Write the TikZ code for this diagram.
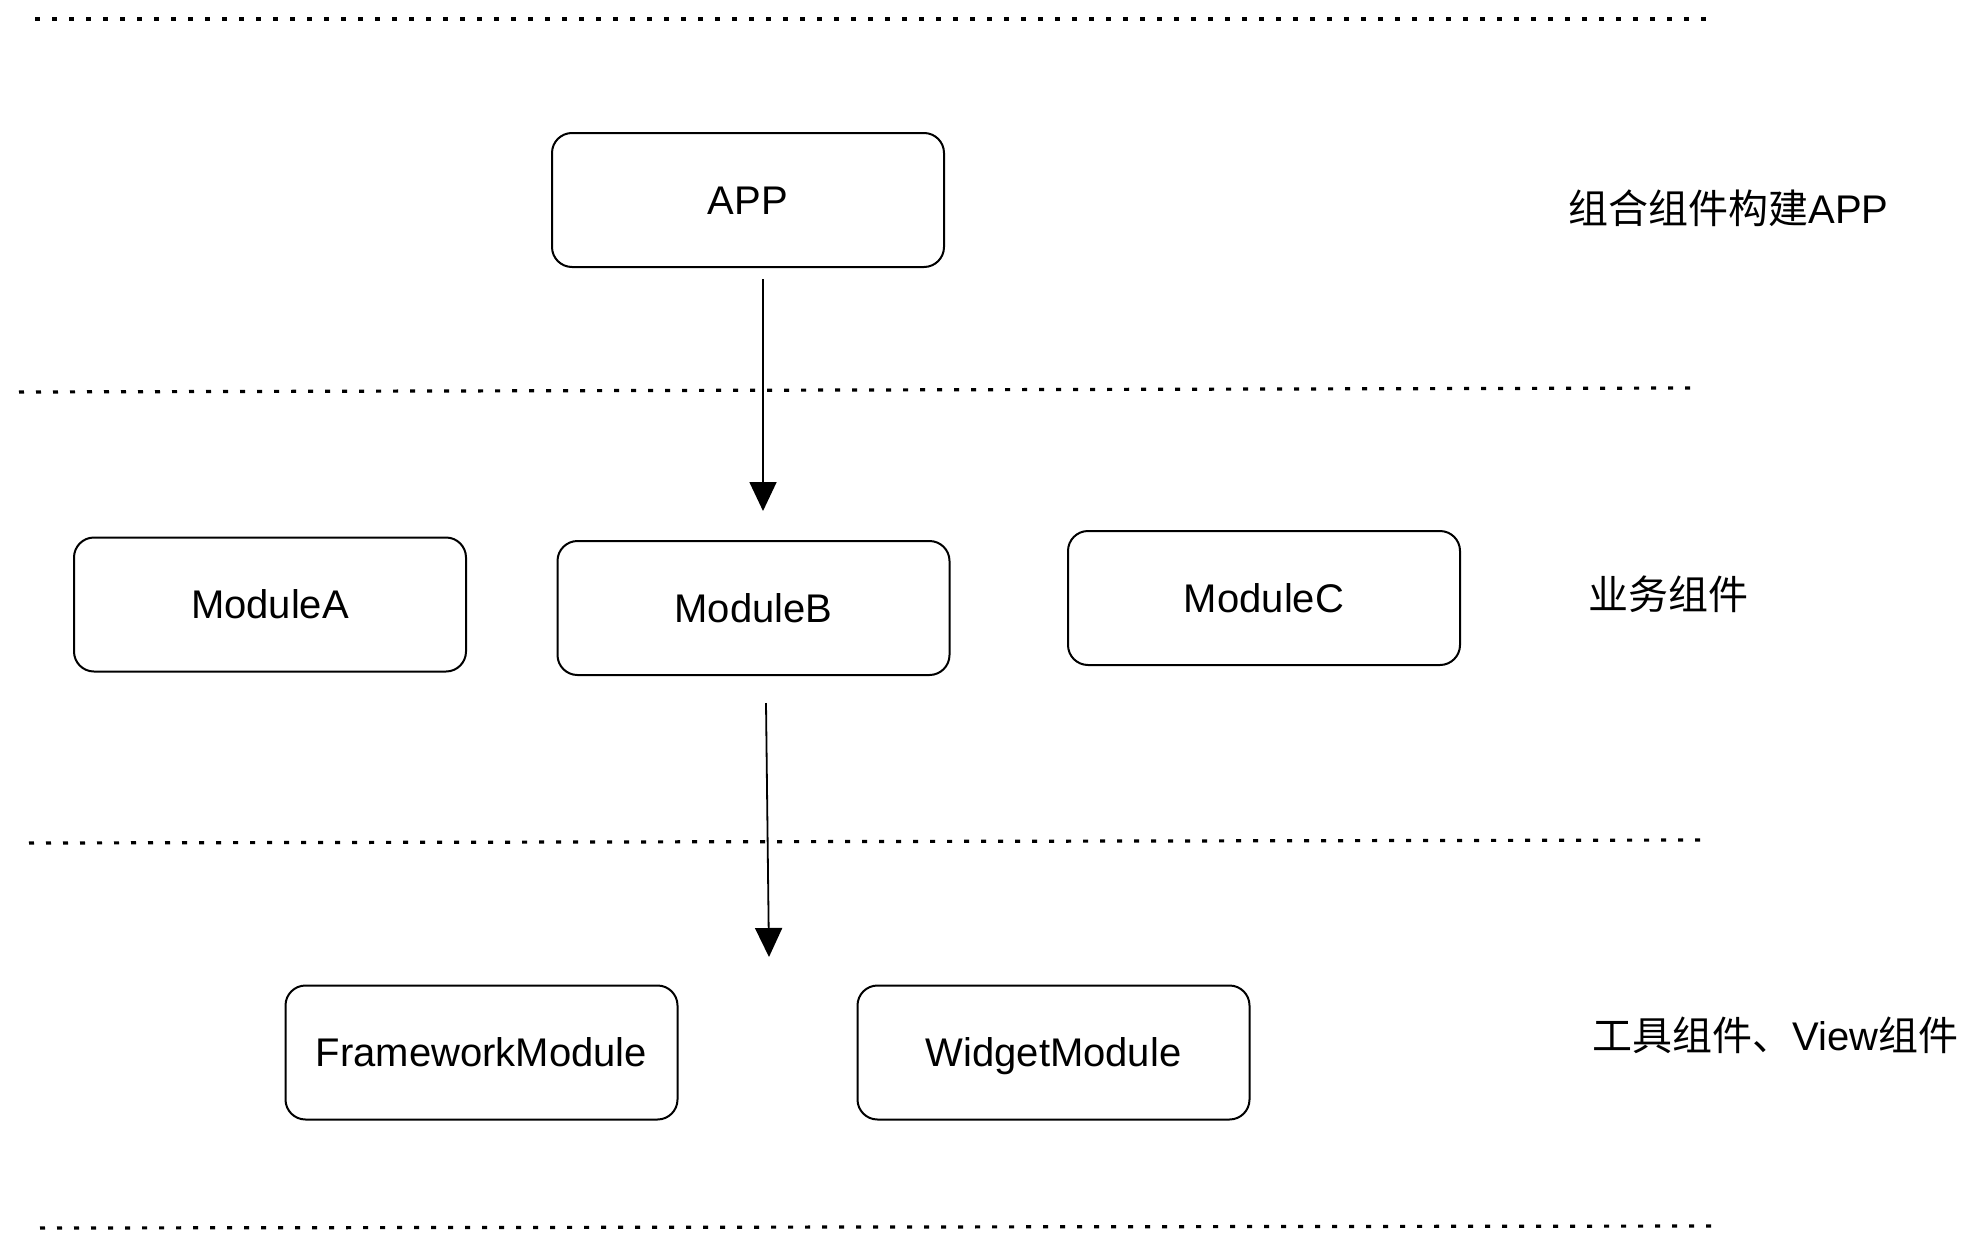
\documentclass[tikz,border=0pt]{standalone}
\usepackage{fontspec}
\setmainfont{Liberation Sans}
\newfontfamily\cjk{Noto Sans CJK SC}
\usetikzlibrary{arrows.meta}
\begin{document}
\begin{tikzpicture}[x=0.5pt,y=-0.5pt,
  box/.style={draw, line width=1pt, rounded corners=10pt,
    minimum width=196pt, minimum height=67pt, inner sep=0pt,
    text height=14.4pt, text depth=0pt,
    font=\fontsize{20pt}{24pt}\selectfont},
  layer/.style={line width=1.6pt, dash pattern=on 2.5pt off 6pt},
  arr/.style={line width=0.9pt, -{Triangle[width=13.5pt,length=14.5pt]}},
  lbl/.style={anchor=west, inner sep=0pt, font=\fontsize{20pt}{24pt}\selectfont}]
  \useasboundingbox (0,0) rectangle (1979,1252);

  % layer separators
  \draw[layer] (35,19) -- (1706,19);
  \draw[layer] (19,392) -- (1691,388);
  \draw[layer] (29,843) -- (1704,840);
  \draw[layer] (40,1228) -- (1714,1226);

  % components
  \node[box] (APP) at (748,200) {APP};
  \node[box] (ModuleA) at (270,604.5) {ModuleA};
  \node[box] (ModuleB) at (753.5,608) {ModuleB};
  \node[box] (ModuleC) at (1264,598) {ModuleC};
  \node[box] (Framework) at (481.5,1052.5) {FrameworkModule};
  \node[box] (Widget) at (1053.5,1052.5) {WidgetModule};

  % dependencies
  \coordinate (base) at (769,957);
  \draw[arr] ([xshift=7.5pt,yshift=-5.5pt]APP.south) -- ([xshift=4.75pt,yshift=14.5pt]ModuleB.north);
  \draw[arr] ([xshift=6.25pt,yshift=-13.5pt]ModuleB.south) -- (base);

  % layer labels
  \node[lbl] (l1) at (1568,208) {{\cjk 组合组件构建}APP};
  \node[lbl] (l2) at (1588,594) {\cjk 业务组件};
  \node[lbl] (l3) at (1592,1035) {{\cjk 工具组件、}View{\cjk 组件}};
\end{tikzpicture}
\end{document}
